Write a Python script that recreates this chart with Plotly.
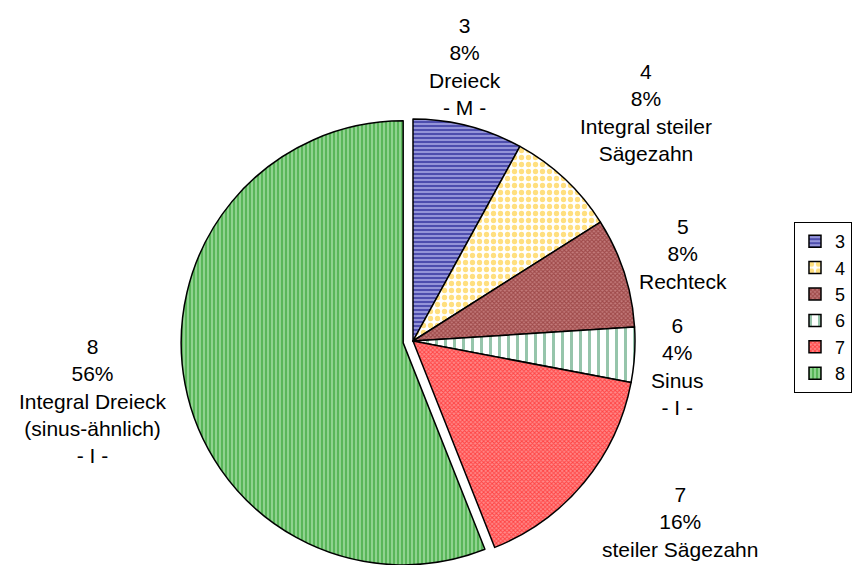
import math
import plotly.graph_objects as go

# categories and values (counts, shown as percent)
classes = ["3", "4", "5", "6", "7", "8"]
counts = [2, 2, 2, 1, 4, 14]
names = ["Dreieck<br>- M -", "Integral steiler<br>Sägezahn", "Rechteck",
         "Sinus<br>- I -", "steiler Sägezahn",
         "Integral Dreieck<br>(sinus-ähnlich)<br>- I -"]

W, H = 858, 565
FONT = "Liberation Sans, Arial, sans-serif"

# slice styles
pattern_shapes = ["-", ".", "x", "|", "x", "|"]
fg_colors = ["#000080", "#FFC000", "#7A1A1A", "#2E8B57", "#FF0000", "#159215"]
bg_colors = ["#9C9CDC", "#FFFFFF", "#C47C7C", "#FFFFFF", "#FF8A8A", "#9CDA9C"]
pattern_sizes = [4, 7, 3, 9, 3, 4]
solidities = [0.55, 0.45, 0.6, 0.33, 0.55, 0.6]
CLEAR = "rgba(0,0,0,0)"

# pie geometry in pixels
cx, cy, r = 413, 341, 222
pull_px = 10
exploded = 5  # index of the pulled slice ("8")


def domain_px(x0, y0, radius):
    return dict(x=[(x0 - radius) / W, (x0 + radius) / W],
                y=[(H - y0 - radius) / H, (H - y0 + radius) / H])


def pattern(mask):
    return dict(
        shape=[s if m else "" for s, m in zip(pattern_shapes, mask)],
        fgcolor=[c if m else CLEAR for c, m in zip(fg_colors, mask)],
        bgcolor=[c if m else CLEAR for c, m in zip(bg_colors, mask)],
        size=pattern_sizes, solidity=solidities, fillmode="overlay",
    )


total = sum(counts)
mid = (sum(counts[:exploded]) + counts[exploded] / 2) / total * 2 * math.pi
dx = pull_px * math.sin(mid)
dy = -pull_px * math.cos(mid)

fig = go.Figure()

# legend-only carrier (tiny, hidden under the legend box)
fig.add_trace(go.Pie(
    labels=classes, values=counts, sort=False, direction="clockwise", rotation=0,
    textinfo="none", hoverinfo="skip",
    marker=dict(colors=bg_colors, line=dict(color="black", width=1.5),
                pattern=pattern([True] * 6)),
    domain=dict(x=[0.96, 0.9605], y=[0.45, 0.4505]),
))

# main pie without the pulled slice
mask_main = [i != exploded for i in range(len(classes))]
fig.add_trace(go.Pie(
    labels=classes, values=counts, sort=False, direction="clockwise", rotation=0,
    textinfo="none", showlegend=False,
    marker=dict(colors=[c if m else CLEAR for c, m in zip(bg_colors, mask_main)],
                line=dict(color="black", width=[1.5 if m else 0 for m in mask_main]),
                pattern=pattern(mask_main)),
    domain=domain_px(cx, cy, r),
))

# pulled slice
mask_pull = [i == exploded for i in range(len(classes))]
fig.add_trace(go.Pie(
    labels=classes, values=counts, sort=False, direction="clockwise", rotation=0,
    textinfo="none", showlegend=False,
    marker=dict(colors=[c if m else CLEAR for c, m in zip(bg_colors, mask_pull)],
                line=dict(color="black", width=[1.5 if m else 0 for m in mask_pull]),
                pattern=pattern(mask_pull)),
    domain=domain_px(cx + dx, cy + dy, r),
))

# outside labels (block centres in pixels)
label_pos = [(465, 66), (646, 112), (683, 254), (677, 366), (680, 522), (93, 401)]
for cls, cnt, name, (lx, ly) in zip(classes, counts, names, label_pos):
    fig.add_annotation(
        x=lx / W, y=1 - ly / H, xref="paper", yref="paper",
        text=f"{cls}<br>{cnt / total:.0%}<br>{name}",
        showarrow=False, xanchor="center", yanchor="middle", align="center",
        font=dict(family=FONT, size=21, color="black"),
    )

fig.update_layout(
    width=W,
    height=H,
    margin=dict(l=0, r=0, t=0, b=0),
    paper_bgcolor="white",
    plot_bgcolor="white",
    font=dict(family=FONT, size=18, color="black"),
    legend=dict(
        x=0.993, xanchor="right", y=1 - 222 / H, yanchor="top",
        bordercolor="black", borderwidth=1, bgcolor="white",
        font=dict(size=18),
        itemwidth=30,
        tracegroupgap=0,
    ),
)

# the page's default body margin would shift the figure by 8px
fig.write_html("out.html", config={"displayModeBar": False},
               post_script="document.body.style.margin = '0';")
